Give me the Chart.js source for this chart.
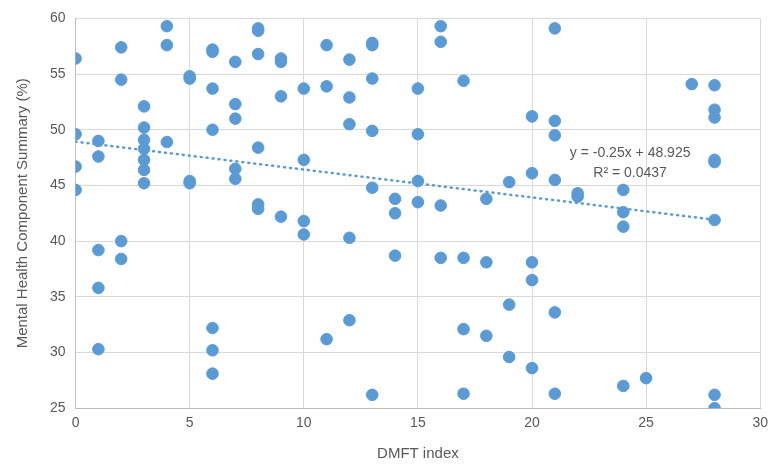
<!DOCTYPE html>
<html>
<head>
<meta charset="utf-8">
<script src="https://cdn.jsdelivr.net/npm/chart.js@4"></script>
<style>
  html, body { margin: 0; padding: 0; background: #fff; overflow: hidden; }
  #wrap { position: relative; width: 775px; height: 467px; }
</style>
</head>
<body>
<div id="wrap"><canvas id="chart"></canvas></div>
<script>
// DMFT index per respondent, and their mental health component score
const dmft = [
  0, 0, 0, 0,
  1, 1, 1, 1, 1,
  2, 2, 2, 2,
  3, 3, 3, 3, 3, 3, 3,
  4, 4, 4,
  5, 5, 5, 5,
  6, 6, 6, 6, 6, 6, 6,
  7, 7, 7, 7, 7,
  8, 8, 8, 8, 8, 8,
  9, 9, 9, 9,
  10, 10, 10, 10,
  11, 11, 11,
  12, 12, 12, 12, 12,
  13, 13, 13, 13, 13, 13,
  14, 14, 14,
  15, 15, 15, 15,
  16, 16, 16, 16,
  17, 17, 17, 17,
  18, 18, 18,
  19, 19, 19,
  20, 20, 20, 20, 20,
  21, 21, 21, 21, 21, 21,
  22, 22,
  24, 24, 24, 24,
  25,
  27,
  28, 28, 28, 28, 28, 28, 28, 28
];
const mcs = [
  56.4, 49.6, 46.7, 44.6,
  49.0, 47.6, 39.2, 35.8, 30.3,
  57.4, 54.5, 40.0, 38.4,
  52.1, 50.2, 49.1, 48.3, 47.3, 46.4, 45.2,
  59.3, 57.6, 48.9,
  54.8, 54.6, 45.4, 45.2,
  57.2, 57.0, 53.7, 50.0, 32.2, 30.2, 28.1,
  56.1, 52.3, 51.0, 46.5, 45.6,
  59.1, 58.9, 56.8, 48.4, 43.3, 42.9,
  56.4, 56.1, 53.0, 42.2,
  53.7, 47.3, 41.8, 40.6,
  57.6, 53.9, 31.2,
  56.3, 52.9, 50.5, 40.3, 32.9,
  57.8, 57.6, 54.6, 49.9, 44.8, 26.2,
  43.8, 42.5, 38.7,
  53.7, 49.6, 45.4, 43.5,
  59.3, 57.9, 43.2, 38.5,
  54.4, 38.5, 32.1, 26.3,
  43.8, 38.1, 31.5,
  45.3, 34.3, 29.6,
  51.2, 46.1, 38.1, 36.5, 28.6,
  59.1, 50.8, 49.5, 45.5, 33.6, 26.3,
  44.3, 44.0,
  44.6, 42.6, 41.3, 27.0,
  27.7,
  54.1,
  54.0, 51.8, 51.1, 47.3, 47.1, 41.9, 26.2, 25.0
];

// linear trendline as printed on the chart
const slope = -0.25;
const intercept = 48.925;
const rSquared = 0.0437;
const trendX = [0, 28];

const xTicks = [0, 5, 10, 15, 20, 25, 30];
const yTicks = [25, 30, 35, 40, 45, 50, 55, 60];

const blue = "#5B9BD5";
const textColor = "#595959";
const font = "'Liberation Sans Narrow', 'Liberation Sans', sans-serif";

const points = dmft.map((x, i) => ({ x: x, y: mcs[i] }));
const trend = trendX.map((x) => ({ x: x, y: slope * x + intercept }));

// draws the trendline equation text
const equationLabel = {
  id: "equationLabel",
  afterDatasetsDraw(chart) {
    const { ctx, scales } = chart;
    const cx = scales.x.getPixelForValue(24.3);
    const cy = scales.y.getPixelForValue(47.9);
    ctx.save();
    ctx.fillStyle = textColor;
    ctx.font = "14px " + font;
    ctx.textAlign = "center";
    ctx.textBaseline = "middle";
    ctx.fillText("y = " + slope + "x + " + intercept, cx, cy);
    ctx.fillText("R\u00B2 = " + rSquared, cx, cy + 20);
    ctx.restore();
  },
};

new Chart(document.getElementById("chart"), {
  type: "scatter",
  data: {
    datasets: [
      {
        label: "Trend",
        type: "line",
        data: trend,
        borderColor: blue,
        borderWidth: 2.5,
        borderDash: [1, 5],
        borderCapStyle: "round",
        pointRadius: 0,
        fill: false,
        order: 2,
      },
      {
        label: "MCS",
        data: points,
        backgroundColor: blue,
        borderColor: blue,
        pointRadius: 5.8,
        pointHoverRadius: 5.8,
        order: 1,
      },
    ],
  },
  options: {
    responsive: true,
    maintainAspectRatio: false,
    animation: false,
    layout: { padding: { top: 9, right: 0, bottom: 0, left: 10 } },
    scales: {
      x: {
        type: "linear",
        min: 0,
        max: 30,
        afterBuildTicks: (axis) => { axis.ticks = xTicks.map((v) => ({ value: v })); },
        grid: { color: "#D9D9D9", lineWidth: 1, drawTicks: false },
        border: { color: "#BFBFBF" },
        ticks: { color: textColor, font: { family: font, size: 14 }, padding: 7 },
        title: {
          display: true,
          text: "DMFT index",
          color: textColor,
          font: { family: font, size: 15 },
          padding: { top: 6, bottom: 4 },
        },
      },
      y: {
        min: 25,
        max: 60,
        afterBuildTicks: (axis) => { axis.ticks = yTicks.map((v) => ({ value: v })); },
        grid: { color: "#D9D9D9", lineWidth: 1, drawTicks: false },
        border: { color: "#BFBFBF" },
        ticks: { color: textColor, font: { family: font, size: 14 }, padding: 10 },
        title: {
          display: true,
          text: "Mental Health Component Summary (%)",
          color: textColor,
          font: { family: font, size: 15 },
          padding: { bottom: 8 },
        },
      },
    },
    plugins: {
      legend: { display: false },
      tooltip: { enabled: false },
    },
  },
  plugins: [equationLabel],
});
</script>
</body>
</html>
